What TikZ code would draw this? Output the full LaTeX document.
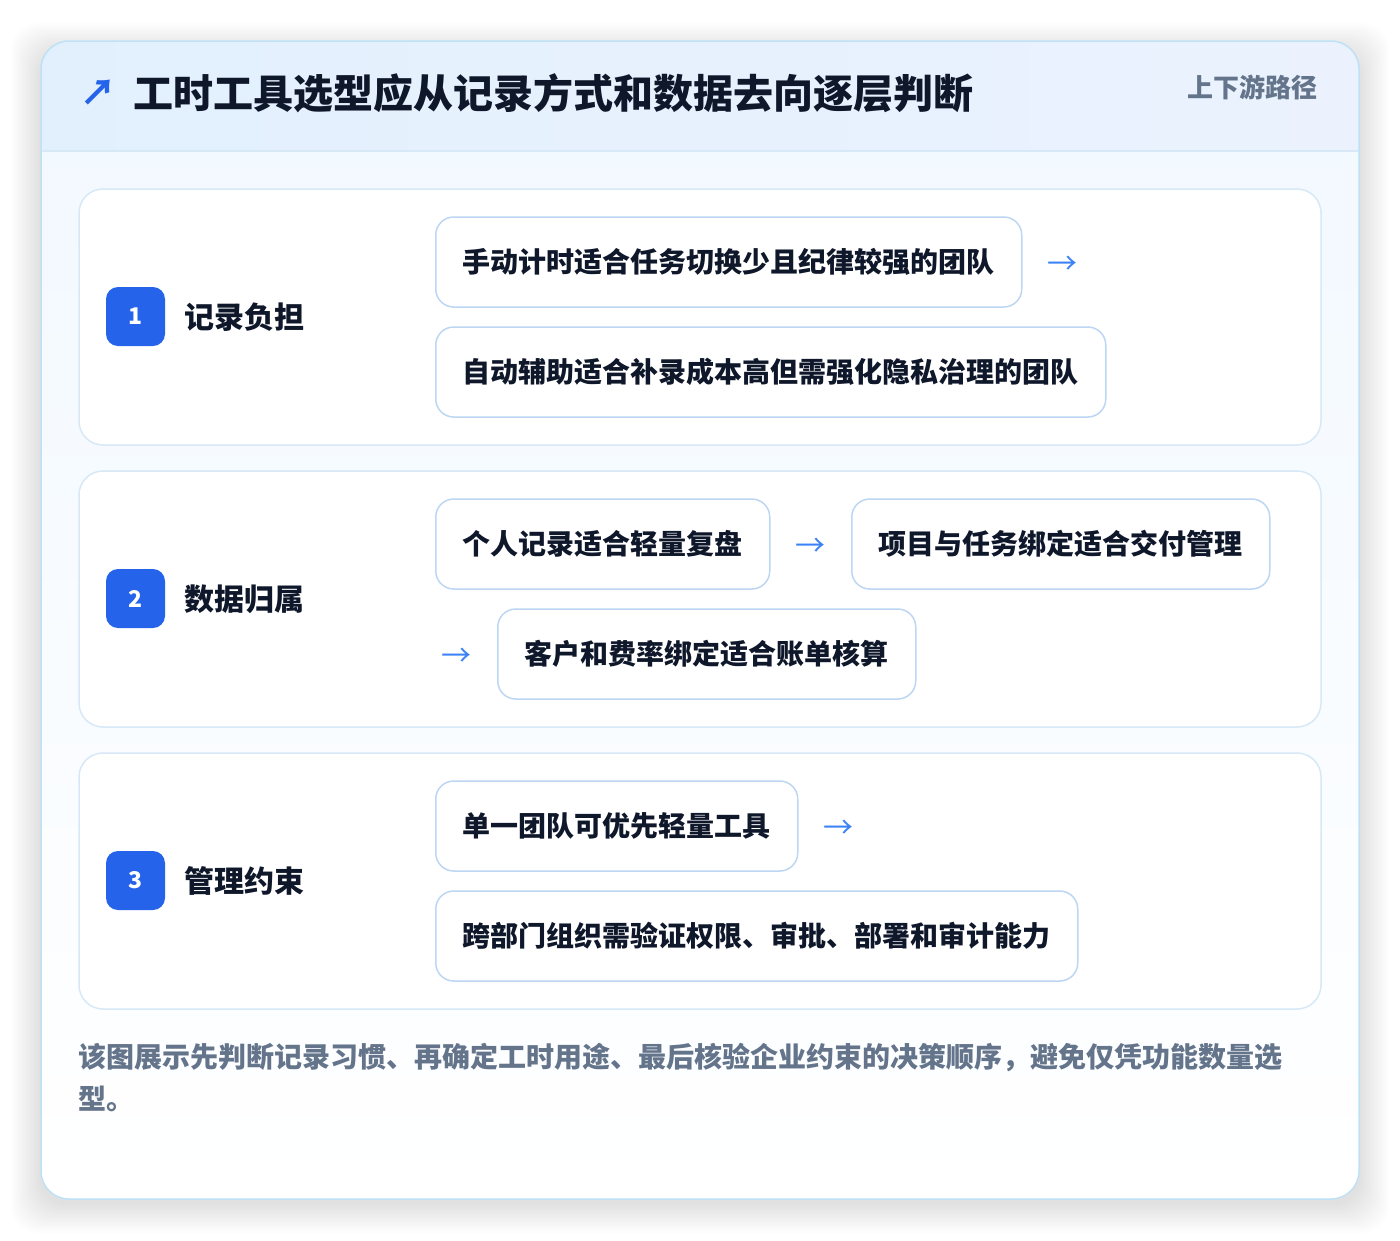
\documentclass[tikz,border=0pt]{standalone}
\usepackage{fontspec}
\setmainfont{Noto Sans CJK SC}
\definecolor{ink}{HTML}{0F172A}
\definecolor{muted}{HTML}{64748B}
\definecolor{brand}{HTML}{2563EB}
\definecolor{arrowblue}{HTML}{3B82F6}
\definecolor{edge}{HTML}{BFE1F6}
\definecolor{cardedge}{HTML}{D7E8F7}
\definecolor{optedge}{HTML}{BDD6F4}
\definecolor{headl}{HTML}{E2F0FD}
\definecolor{headr}{HTML}{EBF2FE}
\definecolor{bodytop}{HTML}{F1F8FF}
\begin{document}
\begin{tikzpicture}[x=1pt,y=-1pt]
    \tikzset{
    sec/.style={draw=cardedge, line width=1.5pt, fill=white, rounded corners=24pt},
    badge/.style={rounded corners=12pt, fill=brand, text=white, minimum size=59pt, inner sep=0pt, font=\fontsize{23}{26}\selectfont\bfseries},
    lbl/.style={anchor=west, inner sep=0pt, text=ink, font=\fontsize{30}{36}\selectfont\bfseries},
    opt/.style={anchor=west, draw=optedge, line width=1.5pt, fill=white, rounded corners=18pt, minimum height=90pt, inner xsep=27pt, inner ysep=0pt, text=ink, font=\fontsize{28}{34}\selectfont\bfseries},
    nxt/.style={inner sep=0pt, text=arrowblue, font=\fontsize{30}{34}\selectfont},
    foot/.style={anchor=west, inner sep=0pt, text=muted, font=\fontsize{28}{34}\selectfont\bfseries},
    }
    \useasboundingbox[fill=white] (0,0) rectangle (1400,1240);
    % outer card and its soft shadow
    \foreach \s in {2,4,...,30}
      \fill[black, opacity=0.006, rounded corners=28pt] (41-\s,41-\s+12) rectangle (1359+\s,1199+\s+4);
    \path[rounded corners=28pt, top color=bodytop, bottom color=white] (41,41) rectangle (1359,1199);
    \begin{scope}
    \clip[rounded corners=28pt] (41,41) rectangle (1359,1199);
    \shade[left color=headl, right color=headr] (41,41) rectangle (1359,151);
    \draw[cardedge, line width=1.5pt] (41,151) -- (1359,151);
    \end{scope}
    \draw[edge, line width=1.5pt, rounded corners=28pt] (41,41) rectangle (1359,1199);
    % header
    \node[inner sep=0pt, text=brand, font=\fontsize{36}{40}\selectfont\bfseries] (mark) at (98,93) {↗};
    \node[anchor=west, inner sep=0pt, text=ink, font=\fontsize{40}{48}\selectfont\bfseries] (title) at (133,93) {工时工具选型应从记录方式和数据去向逐层判断};
    \node[anchor=east, inner sep=0pt, text=muted, font=\fontsize{26}{32}\selectfont\bfseries] (tag) at (1318,87) {上下游路径};
    % sections
    \draw[sec] (79,189) rectangle (1321,445);
    \draw[sec] (79,471) rectangle (1321,727);
    \draw[sec] (79,753) rectangle (1321,1009);
    % 1
    \node[badge] (b1) at (135.5,316.5) {1};
    \node[lbl] (l1) at (184,317) {记录负担};
    \node[opt] (o11) at (435,262) {手动计时适合任务切换少且纪律较强的团队};
    \node[nxt] (n11) at (1062,265) {→};
    \node[opt] (o12) at (435,372) {自动辅助适合补录成本高但需强化隐私治理的团队};
    % 2
    \node[badge] (b2) at (135.5,598.5) {2};
    \node[lbl] (l2) at (184,599) {数据归属};
    \node[opt] (o21) at (435,544) {个人记录适合轻量复盘};
    \node[nxt] (n21) at (810,547) {→};
    \node[opt] (o22) at (851,544) {项目与任务绑定适合交付管理};
    \node[nxt] (n22) at (456,657) {→};
    \node[opt] (o23) at (497,654) {客户和费率绑定适合账单核算};
    % 3
    \node[badge] (b3) at (135.5,880.5) {3};
    \node[lbl] (l3) at (184,881) {管理约束};
    \node[opt] (o31) at (435,826) {单一团队可优先轻量工具};
    \node[nxt] (n31) at (838,829) {→};
    \node[opt] (o32) at (435,936) {跨部门组织需验证权限、审批、部署和审计能力};
    % footer
    \node[foot] (f1) at (78,1057) {该图展示先判断记录习惯、再确定工时用途、最后核验企业约束的决策顺序，避免仅凭功能数量选};
    \node[foot] (f2) at (78,1099) {型。};
\end{tikzpicture}
\end{document}
